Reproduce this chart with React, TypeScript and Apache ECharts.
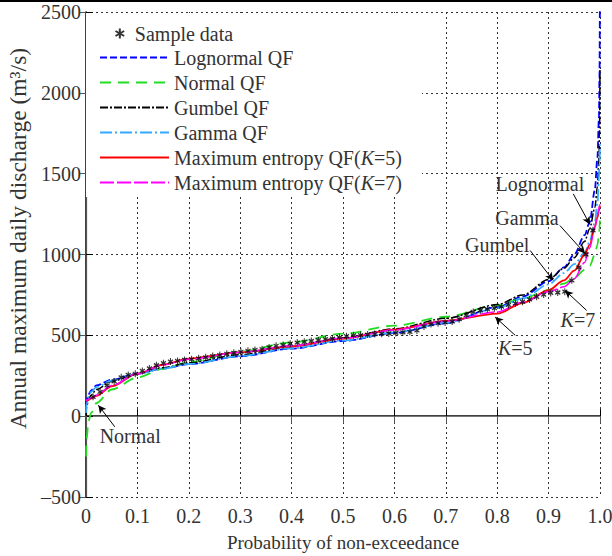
import React, { useEffect, useRef } from "react";
import * as echarts from "echarts";

const FONT = '"Liberation Serif", "DejaVu Serif", serif';
const TXT = "#333";

// probability grid for the fitted quantile functions
const P = [0.0001, 0.001, 0.005, 0.01, 0.02, 0.05, 0.1, 0.15, 0.2, 0.3, 0.4, 0.5, 0.6, 0.7, 0.8, 0.85, 0.9, 0.93, 0.95, 0.97, 0.98, 0.99, 0.995, 0.998, 0.999, 0.9999];
const lognormalQF = [75, 100, 135, 160, 190, 225, 263, 295, 322, 370, 418, 465, 515, 575, 675, 740, 835, 920, 1000, 1120, 1200, 1400, 1600, 1850, 2100, 2700];
const normalQF = [-250, -140, -30, 20, 80, 165, 240, 293, 335, 400, 457, 510, 560, 615, 685, 728, 780, 820, 855, 905, 930, 1000, 1060, 1120, 1160, 1240];
const gumbelQF = [10, 55, 105, 130, 165, 215, 262, 300, 330, 380, 430, 485, 540, 605, 690, 750, 845, 915, 980, 1080, 1160, 1290, 1420, 1600, 1730, 2150];
const gammaQF = [20, 70, 120, 150, 180, 220, 262, 295, 322, 372, 420, 468, 518, 578, 668, 728, 815, 885, 940, 1010, 1080, 1200, 1320, 1470, 1570, 1700];
const maxEntK5 = [95, 98, 100, 110, 125, 185, 263, 318, 356, 395, 432, 480, 535, 590, 634, 700, 780, 840, 900, 1000, 1060, 1170, 1230, 1270, 1290, 1300];
const maxEntK7 = [95, 100, 105, 112, 130, 190, 262, 318, 352, 395, 435, 482, 533, 588, 645, 705, 770, 800, 850, 950, 1040, 1170, 1240, 1290, 1300, 1310];

// sorted sample of annual maximum daily discharge (m3/s)
const sampleData = [
  120, 150, 190, 215, 240, 255, 262, 280, 295, 315, 328, 338, 342, 348, 352, 358, 364, 372,
  378, 386, 392, 398, 404, 410, 414, 425, 435, 440, 448, 455, 460, 465, 470, 476, 480, 488,
  495, 500, 502, 505, 508, 510, 512, 515, 518, 522, 530, 555, 570, 575, 580, 585, 600, 625,
  645, 655, 662, 668, 678, 688, 698, 708, 722, 738, 752, 762, 765, 770, 840, 920, 1000, 1150,
];

const xTicks = ["0", "0.1", "0.2", "0.3", "0.4", "0.5", "0.6", "0.7", "0.8", "0.9", "1.0"];

// annotations: label text, label position, arrow start, arrow end (data coordinates)
const annotations = [
  { text: "Lognormal", at: [0.883, 1438], from: [0.948, 1375], to: [0.9805, 1185] },
  { text: "Gamma", at: [0.858, 1228], from: [0.922, 1179], to: [0.971, 1006] },
  { text: "Gumbel", at: [0.8, 1056], from: [0.864, 1025], to: [0.909, 840] },
  { text: "{i|K}=7", at: [0.957, 593], from: [0.974, 654], to: [0.932, 778] },
  { text: "{i|K}=5", at: [0.835, 420], from: [0.835, 500], to: [0.796, 613] },
  { text: "Normal", at: [0.086, -123], from: [0.056, -66], to: [0.024, 68] },
];

const curves = [
  { name: "Lognormal QF", data: lognormalQF, color: "#0000ff", type: [7, 3], width: 1.8 },
  { name: "Normal QF", data: normalQF, color: "#22dd22", type: [11, 7], width: 1.8 },
  { name: "Gumbel QF", data: gumbelQF, color: "#000000", type: [8, 2, 2, 2], width: 1.5 },
  { name: "Gamma QF", data: gammaQF, color: "#33aaff", type: [12, 3, 2, 3], width: 1.8 },
  { name: "Maximum entropy QF(K=5)", data: maxEntK5, color: "#ff0000", type: "solid", width: 1.8 },
  { name: "Maximum entropy QF(K=7)", data: maxEntK7, color: "#ff00ff", type: [14, 3], width: 1.5 },
];

const ASTERISK = "path://M5,0L5,10M0.67,2.5L9.33,7.5M0.67,7.5L9.33,2.5";

const FS = 20;
const richK = {
  i: { fontStyle: "italic", fontFamily: FONT, fontSize: FS, color: TXT },
};

export default function App() {
  const ref = useRef<HTMLDivElement>(null);
  useEffect(() => {
    document.body.style.margin = "0";
    const chart = echarts.init(ref.current!, null, { renderer: "svg" });
    const n = sampleData.length;
    const series: any[] = [
      {
        name: "Sample data",
        type: "scatter",
        data: sampleData.map((v, i) => [(i + 1) / (n + 1), v]),
        symbol: ASTERISK,
        symbolSize: [5, 7],
        itemStyle: { color: "none", borderColor: "#000", borderWidth: 1.2 },
        z: 5,
      },
      ...curves.map((c) => ({
        name: c.name,
        type: "line",
        data: P.map((p, i) => [p, c.data[i]]),
        symbol: "none",
        smooth: 0.3,
        smoothMonotone: "x",
        lineStyle: { color: c.color, type: c.type, width: c.width },
        itemStyle: { color: c.color },
        z: 3,
      })),
      {
        name: "annotations",
        type: "line",
        data: [],
        silent: true,
        markLine: {
          silent: true,
          symbol: ["none", "arrow"],
          symbolSize: [6, 8],
          label: { show: false },
          lineStyle: { color: "#000", width: 1, type: "solid" },
          data: annotations.map((a) => [{ coord: a.from }, { coord: a.to }]),
        },
        markPoint: {
          silent: true,
          symbol: "circle",
          symbolSize: 1,
          itemStyle: { color: "rgba(0,0,0,0)" },
          label: {
            show: true,
            position: "inside",
            fontFamily: FONT,
            fontSize: FS,
            color: TXT,
            rich: richK,
          },
          data: annotations.map((a) => ({ coord: a.at, label: { formatter: a.text } })),
        },
        z: 6,
      },
    ];

    const legendText = {
      fontFamily: FONT,
      fontSize: FS,
      lineHeight: 21,
      color: TXT,
      rich: richK,
    };
    const kFormatter = (name: string) => name.replace("K=", "{i|K}=");

    chart.setOption({
      animation: false,
      backgroundColor: "#fff",
      grid: { left: 86, right: 12, top: 12, bottom: 59, containLabel: false, outerBoundsMode: "none" },
      legend: [
        {
          data: curves.map((c) => c.name),
          orient: "vertical",
          left: 86,
          top: 13,
          padding: [34, 20, 4, 13],
          itemWidth: 69,
          itemHeight: 14,
          itemGap: 4,
          backgroundColor: "#fff",
          itemStyle: { opacity: 0 },
          textStyle: legendText,
          formatter: kFormatter,
          z: 4,
        },
        {
          data: ["Sample data"],
          orient: "vertical",
          left: 113,
          top: 23,
          padding: 0,
          itemWidth: 20,
          itemHeight: 10,
          textStyle: legendText,
          z: 5,
        },
      ],
      xAxis: [
        {
          type: "value",
          min: 0,
          max: 1,
          interval: 0.1,
          position: "bottom",
          axisLine: { show: true, lineStyle: { color: "#000", width: 1.5 } },
          axisTick: { show: true, inside: true, length: 7, lineStyle: { color: "#000" } },
          axisLabel: {
            fontFamily: FONT,
            fontSize: FS,
            color: TXT,
            margin: 9,
            formatter: (v: number) => xTicks[Math.round(v * 10)],
          },
          splitLine: { show: true, lineStyle: { color: "#333", type: [2, 3], width: 1 } },
          name: "Probability of non-exceedance",
          nameLocation: "middle",
          nameGap: 36,
          nameTextStyle: { fontFamily: FONT, fontSize: 19, color: TXT },
        },
        {
          type: "value",
          min: 0,
          max: 1,
          interval: 0.1,
          position: "top",
          axisLine: { show: true, lineStyle: { color: "#777", width: 1 } },
          axisTick: { show: true, inside: true, length: 7, lineStyle: { color: "#555" } },
          axisLabel: { show: false },
          splitLine: { show: false },
        },
      ],
      yAxis: [
        {
          type: "value",
          min: -500,
          max: 2500,
          interval: 500,
          position: "left",
          axisLine: { show: true, lineStyle: { color: "#000", width: 1.5 } },
          axisTick: { show: true, inside: true, length: 7, lineStyle: { color: "#000" } },
          axisLabel: {
            fontFamily: FONT,
            fontSize: FS,
            color: TXT,
            margin: 5,
            formatter: (v: number) => (v < 0 ? "\u2013" + Math.abs(v) : String(v)),
          },
          splitLine: { show: true, lineStyle: { color: "#333", type: [2, 3], width: 1 } },
          name: "Annual maximum daily discharge (m\u00b3/s)",
          nameLocation: "middle",
          nameRotate: 90,
          nameGap: 52,
          nameTextStyle: { fontFamily: FONT, fontSize: 23.5, color: TXT, padding: [0, 0, 0, 32] },
        },
        {
          type: "value",
          min: -500,
          max: 2500,
          interval: 500,
          position: "right",
          axisLine: { show: true, lineStyle: { color: "#555", width: 1.2 } },
          axisTick: { show: true, inside: true, length: 7, lineStyle: { color: "#555" } },
          axisLabel: { show: false },
          splitLine: { show: false },
        },
      ],
      graphic: [
        {
          type: "line",
          shape: { x1: 0, y1: 1, x2: 612, y2: 1 },
          style: { stroke: "#000", lineWidth: 2 },
          silent: true,
        },
      ],
      series,
    });
    return () => chart.dispose();
  }, []);
  return <div ref={ref} style={{ width: 612, height: 556 }} />;
}
